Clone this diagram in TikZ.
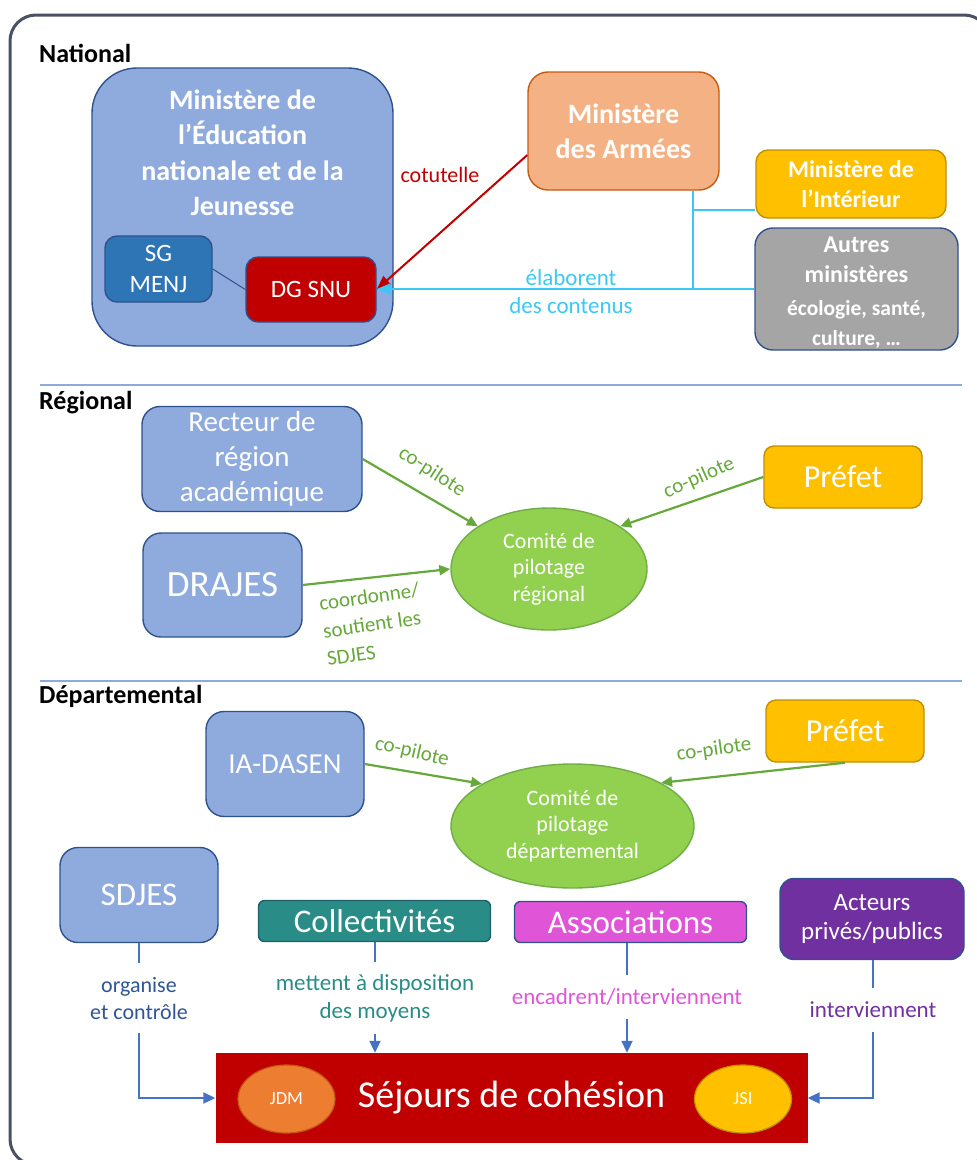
\documentclass[tikz,border=0pt]{standalone}
\usepackage{fontspec}
\setmainfont{Carlito}
\usetikzlibrary{arrows.meta,shapes.geometric,calc}
\definecolor{bfill}{HTML}{8FAADC}
\definecolor{bbord}{HTML}{2F528F}
\definecolor{sgfill}{HTML}{2E75B6}
\definecolor{snured}{HTML}{C00000}
\definecolor{orfill}{HTML}{F4B183}
\definecolor{orbord}{HTML}{C55A11}
\definecolor{gold}{HTML}{FFC000}
\definecolor{goldb}{HTML}{BF9000}
\definecolor{grayf}{HTML}{A5A5A5}
\definecolor{gfill}{HTML}{92D050}
\definecolor{gbord}{HTML}{70AD47}
\definecolor{garr}{HTML}{66A83A}
\definecolor{lblue}{HTML}{3CC8F5}
\definecolor{tealf}{HTML}{2A8C86}
\definecolor{tealb}{HTML}{1F5F6B}
\definecolor{magf}{HTML}{E055D8}
\definecolor{purp}{HTML}{7030A0}
\definecolor{jdmf}{HTML}{ED7D31}
\definecolor{sepc}{HTML}{8EAADB}
\definecolor{framec}{HTML}{4A5162}
\definecolor{barr}{HTML}{4472C4}
\definecolor{sdc}{HTML}{2F5597}
\newcommand\fsz[2]{\fontsize{#1}{#2}\selectfont}
\tikzset{
  rbox/.style={draw=bbord, line width=1.4pt, inner sep=0pt, align=center, text=white, rounded corners=15pt},
  sz/.style 2 args={minimum width=#1pt, minimum height=#2pt},
  ell/.style={ellipse, draw=gbord, fill=gfill, line width=1.4pt, inner sep=0pt, align=center, text=white},
  secl/.style={anchor=west, font=\bfseries\fsz{26}{30}, inner sep=0pt},
  garrow/.style={draw=garr, line width=2.2pt, -{Triangle[length=11pt,width=10pt]}},
  glbl/.style={text=garr, font=\fsz{21}{28}, inner sep=0pt},
  lbline/.style={draw=lblue, line width=2.2pt},
  bline/.style={draw=barr, line width=2pt},
  barrow/.style={draw=barr, line width=2pt, -{Triangle[length=12pt,width=11pt]}},
  blbl/.style={font=\fsz{23}{28}, inner sep=0pt, align=center}
}
\begin{document}
\begin{tikzpicture}[x=1pt,y=-1pt]
\useasboundingbox (0,0) rectangle (977,1160);
\begin{scope}
\clip (0,0) rectangle (977,1160);
\draw[draw=framec, line width=3pt, rounded corners=26pt] (10,15) rectangle (990,1165);
\end{scope}
% separators
\draw[draw=sepc, line width=1.6pt] (40,385) -- (962,385);
\draw[draw=sepc, line width=1.6pt] (40,681) -- (962,681);
% section labels
\node[secl] (lnat) at (39,53) {National};
\node[secl] (lreg) at (39,403) {Régional};
\node[secl] (ldep) at (39,696) {Départemental};
% ---------------- National
\node[rbox, fill=bfill, rounded corners=45pt, sz={301}{278}] (men) at (242.5,207) {};
\node[text=white, font=\bfseries\fsz{28}{35.5}, align=center, inner sep=0pt] (mentxt) at (242.5,153) {Ministère de\\l’Éducation\\nationale et de la\\Jeunesse};
\node[rbox, fill=sgfill, rounded corners=12pt, sz={107}{66}, font=\fsz{25}{31}] (sg) at (158.5,269) {SG\\MENJ};
\node[rbox, fill=snured, rounded corners=12pt, sz={130}{65}, font=\fsz{25}{30}] (dg) at (311,289.5) {DG SNU};
\draw[draw=bbord, line width=1pt] (sg.east) -- (dg.west);
\node[rbox, fill=orfill, draw=orbord, rounded corners=20pt, sz={191}{118}, font=\bfseries\fsz{28}{35}] (arm) at (623.5,131) {Ministère\\des Armées};
\node[rbox, fill=gold, draw=goldb, rounded corners=12pt, sz={190}{68}, font=\bfseries\fsz{24}{30}] (int) at (851,184) {Ministère de\\l’Intérieur};
\node[rbox, fill=grayf, rounded corners=18pt, sz={203}{122}] (aut) at (856.5,289) {};
\node[text=white, align=center, inner sep=0pt, font=\bfseries\fsz{24}{30}] (auttxt) at (856.5,293) {Autres\\ministères\\[3pt]{\fsz{21.5}{28}écologie, santé,}\\{\fsz{21.5}{28}culture, …}};
% cotutelle
\draw[draw=snured, line width=2pt, -{Triangle[length=14pt,width=11pt]}] ($(arm.west)+(0,24)$) -- (dg.east);
\node[text=snured, font=\fsz{22}{26}, inner sep=0pt] (cot) at (440,175) {cotutelle};
% light blue
\coordinate (bj) at (693,289);
\coordinate (bi) at (693,210);
\draw[lbline] (arm.south -| bj) -- (bj);
\draw[lbline] (bi) -- (bi -| int.west);
\draw[lbline, -{Triangle[length=14pt,width=11pt]}] (aut.west) -- (aut.west -| dg.east);
\node[text=lblue, font=\fsz{23}{28}, align=center, inner sep=0pt] (elab) at (571,292) {élaborent\\des contenus};
% ---------------- Regional
\node[rbox, fill=bfill, rounded corners=18pt, sz={220}{105}, font=\fsz{29}{35}] (rec) at (252,459) {Recteur de\\région\\académique};
\node[rbox, fill=bfill, rounded corners=18pt, sz={159}{104}, font=\fsz{37}{40}] (dra) at (222.5,585) {DRAJES};
\node[ell, sz={196}{122}, font=\fsz{22}{26.5}] (cr) at (549,569) {Comité de\\pilotage\\régional};
\node[rbox, fill=gold, draw=goldb, rounded corners=10pt, sz={158}{62}, font=\fsz{32}{36}] (pr1) at (843,477) {Préfet};
\draw[garrow] (rec.east) -- (cr.149);
\draw[garrow] (pr1.west) -- (cr.31);
\draw[garrow] (dra.east) -- (cr.west);
\node[glbl, rotate=-33] (cp1) at (432,472) {co-pilote};
\node[glbl, rotate=24] (cp2) at (699,478) {co-pilote};
\node[glbl, rotate=8, align=left] (coord) at (373,624) {coordonne/\\soutient les\\SDJES};
% ---------------- Departemental
\node[rbox, fill=bfill, rounded corners=18pt, sz={158}{105}, font=\fsz{29}{35}] (ia) at (285,764) {IA-DASEN};
\node[rbox, fill=gold, draw=goldb, rounded corners=10pt, sz={158}{62}, font=\fsz{32}{36}] (pr2) at (845,731) {Préfet};
\node[ell, sz={243}{124}, font=\fsz{22}{26.5}] (cd) at (572.5,826) {Comité de\\pilotage\\départemental};
\draw[garrow] (ia.east) -- (cd.155);
\draw[garrow] (pr2.south) -- (cd.26);
\node[glbl, rotate=-13] (cp3) at (412,752) {co-pilote};
\node[glbl, rotate=8] (cp4) at (714,750) {co-pilote};
% bottom row
\node[rbox, fill=bfill, rounded corners=18pt, sz={158}{95}, font=\fsz{33}{36}] (sd) at (139,895) {SDJES};
\node[rbox, fill=tealf, draw=tealb, rounded corners=6pt, sz={232}{41}, font=\fsz{33}{36}] (col) at (374.5,921) {Collectivités};
\node[rbox, fill=magf, rounded corners=6pt, sz={232}{41}, font=\fsz{33}{36}] (ass) at (630.5,922) {Associations};
\node[rbox, fill=purp, rounded corners=14pt, sz={184}{81}, font=\fsz{25}{29}] (act) at (872,919) {Acteurs\\privés/publics};
\node[fill=snured, inner sep=0pt, sz={592}{90}, text=white, font=\fsz{38}{40}] (sej) at (511.5,1098) {Séjours de cohésion};
\node[ellipse, fill=jdmf, draw=orbord, line width=1.2pt, inner sep=0pt, sz={97}{68}, text=white, font=\fsz{18.5}{20}] (jdm) at (286.5,1099) {JDM};
\node[ellipse, fill=gold, draw=goldb, line width=1.2pt, inner sep=0pt, sz={97}{68}, text=white, font=\fsz{18.5}{20}] (jsi) at (743,1099) {JSI};
% labels and connectors
\node[blbl, text=sdc, minimum height=70pt, font=\fsz{22}{27}] (sdl) at (139,998) {organise\\et contrôle};
\draw[bline] (sd.south) -- (sdl.north);
\draw[barrow] (sdl.south) |- (sej.west);
\node[blbl, text=tealf, minimum height=72pt] (coll) at (375,998) {mettent à disposition\\des moyens};
\draw[bline] (coll.north |- col.south) -- (coll.north);
\draw[barrow] (coll.south) -- (coll.south |- sej.north);
\node[blbl, text=magf, minimum height=44pt] (assl) at (627,997) {encadrent/interviennent};
\draw[bline] (assl.north |- ass.south) -- (assl.north);
\draw[barrow] (assl.south) -- (assl.south |- sej.north);
\node[blbl, text=purp, minimum height=44pt] (actl) at (873,1010) {interviennent};
\draw[bline] (actl.north |- act.south) -- (actl.north);
\draw[barrow] (actl.south) |- (sej.east);
\end{tikzpicture}
\end{document}
